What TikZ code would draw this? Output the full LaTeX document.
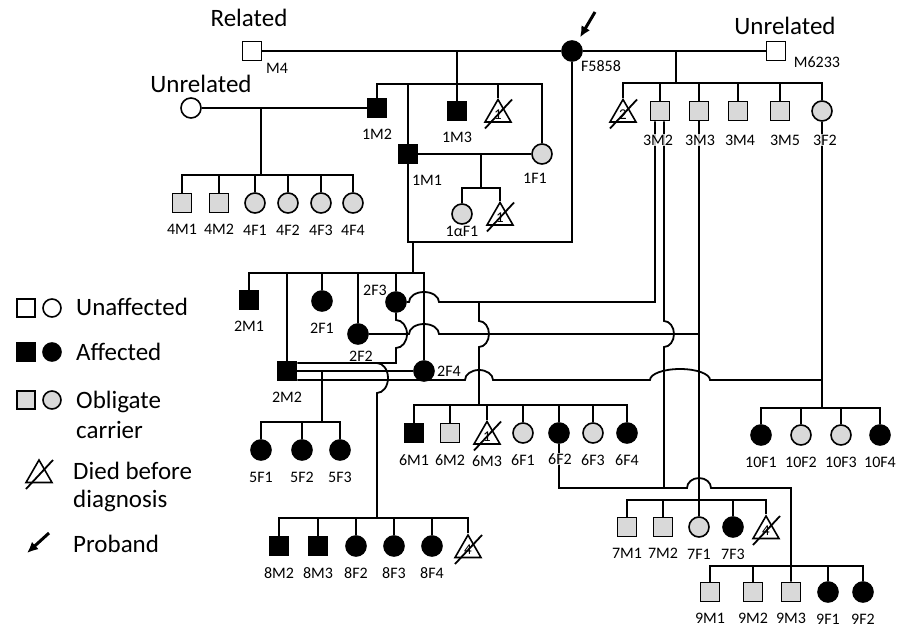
\documentclass[tikz,border=0pt]{standalone}
\usepackage{fontspec}
\setmainfont{Carlito}
\usetikzlibrary{arrows.meta,shapes.geometric}
\definecolor{carrier}{HTML}{D9D9D9}
\tikzset{
  sym/.style={draw=black, line width=1.6pt, inner sep=0pt},
  male/.style={sym, rectangle, minimum size=19pt},
  female/.style={sym, circle, minimum size=20pt},
  died/.style={sym, regular polygon, regular polygon sides=3, minimum size=30pt, fill=white, font=\fontsize{15}{15}\selectfont},
  aff/.style={fill=black},
  car/.style={fill=carrier},
  unaff/.style={fill=white},
  conn/.style={line width=1.8pt},
  lbl/.style={font=\fontsize{16}{16}\selectfont, inner sep=0pt},
  lblover/.style={lbl, fill=white, fill opacity=0.8, text opacity=1, inner sep=1pt},
  big/.style={font=\fontsize{25}{25}\selectfont, inner sep=0pt},
  proband/.style={line width=3pt, -{Latex[length=11pt,width=10pt]}},
}

\begin{document}
\begin{tikzpicture}[x=1pt, y=-1pt, every label/.style={lbl}, label distance=11pt]
\useasboundingbox (0,0) rectangle (909,628);

% founders
\node[male, unaff] (m4) at (252,51) {};
\node[female, aff] (f5858) at (572,51) {};
\node[male, unaff] (m6233) at (776,51) {};
\node[female, unaff] (uf) at (191,108) {};
\node[big, anchor=base] (trel) at (249,27) {Related};
\node[big, anchor=base] (tunrel1) at (201,93) {Unrelated};
\node[big, anchor=base] (tunrel2) at (785,35) {Unrelated};
\node[lbl] (lm4) at (277,68) {M4};
\node[lbl] (lf5858) at (601,66) {F5858};
\node[lbl] (lm6233) at (817,62) {M6233};
\coordinate (pa) at (595,12);

% generation 1
\node[male, aff, label=below:1M2] (p1M2) at (377,108) {};
\node[male, aff, label=below:1M3] (p1M3) at (457,111) {};
\node[died] (t1a) at (498,114.5) {1};
\node[female, car] (p1F1) at (542,154) {};
\node[male, aff] (p1M1) at (408,154) {};
\node[lbl] (l1F1) at (535,178) {1F1};
\node[lbl] (l1M1) at (427,180) {1M1};
\node[female, car] (p1aF1) at (462,214) {};
\node[lbl] (l1aF1) at (462,231) {1αF1};
\node[died] (t1b) at (500,217.5) {1};

% generation 4
\foreach \n/\x in {4M1/182, 4M2/219}
  \node[male, car, label=below:\n] (p\n) at (\x,203) {};
\foreach \n/\x in {4F1/255, 4F2/288, 4F3/321, 4F4/353}
  \node[female, car, label=below:\n] (p\n) at (\x,203) {};

% generation 3
\node[died] (t2) at (623,114.5) {2};
\foreach \n/\x in {3M2/660, 3M3/699, 3M4/738, 3M5/780}
  \node[male, car] (p\n) at (\x,111) {};
\node[female, car] (p3F2) at (822,111) {};

% generation 2
\node[male, aff, label=below:2M1] (p2M1) at (249,300) {};
\node[female, aff, label=below:2F1] (p2F1) at (322,301) {};
\node[female, aff] (p2F2) at (358,334) {};
\node[female, aff] (p2F3) at (396,302) {};
\node[female, aff] (p2F4) at (424,371) {};
\node[male, aff, label=below:2M2] (p2M2) at (287,371) {};
\node[lbl] (l2F2) at (361,356) {2F2};
\node[lbl] (l2F3) at (375,290) {2F3};
\node[lbl] (l2F4) at (449,371) {2F4};

% generation 5
\foreach \n/\x in {5F1/261, 5F2/302, 5F3/340}
  \node[female, aff, label=below:\n] (p\n) at (\x,450) {};

% generation 6
\node[male, aff, label=below:6M1] (p6M1) at (414,433) {};
\node[male, car, label=below:6M2] (p6M2) at (450,433) {};
\node[died, label=below:6M3] (t6) at (487,436.5) {1};
\node[female, car, label=below:6F1] (p6F1) at (523,433) {};
\node[female, aff] (p6F2) at (559,433) {};
\node[female, car, label=below:6F3] (p6F3) at (593,433) {};
\node[female, aff, label=below:6F4] (p6F4) at (627,433) {};

% generation 10
\foreach \n/\x/\f in {10F1/761/aff, 10F2/801/car, 10F3/841/car, 10F4/880/aff}
  \node[female, \f, label=below:\n] (p\n) at (\x,435) {};

% generation 7
\node[male, car, label=below:7M1] (p7M1) at (627,527) {};
\node[male, car, label=below:7M2] (p7M2) at (663,527) {};
\node[female, car, label=below:7F1] (p7F1) at (699,527) {};
\node[female, aff, label=below:7F3] (p7F3) at (733,527) {};
\node[died] (t7) at (766,531) {4};

% generation 8
\foreach \n/\x in {8M2/279, 8M3/318}
  \node[male, aff, label=below:\n] (p\n) at (\x,546) {};
\foreach \n/\x in {8F2/356, 8F3/394, 8F4/432}
  \node[female, aff, label=below:\n] (p\n) at (\x,546) {};
\node[died] (t8) at (468,550) {4};

% generation 9
\foreach \n/\x in {9M1/710, 9M2/753, 9M3/791}
  \node[male, car, label=below:\n] (p\n) at (\x,592) {};
\foreach \n/\x in {9F1/828, 9F2/863}
  \node[female, aff, label=below:\n] (p\n) at (\x,592) {};

% sibship points
\coordinate (s1) at (457,84);
\coordinate (s4) at (261,175);
\coordinate (s3) at (676,83);
\coordinate (s1a) at (481,188);
\coordinate (s2) at (413,273);
\coordinate (s5) at (322,422);
\coordinate (s6) at (479,405);
\coordinate (s7) at (699,500);
\coordinate (s8) at (377,518);
\coordinate (s9) at (791,566);
\coordinate (s10) at (822,408);

% marriages
\draw[conn] (m4) -- (f5858);
\draw[conn] (f5858) -- (m6233);
\draw[conn] (uf) -- (p1M2);
\draw[conn] (p1M1) -- (p1F1);
\draw[conn] (p2M2) -- (p2F4);
\draw[conn] (p1M1.south) |- (f5858.south |- 0,242) -- (f5858.south);

% sibships
\draw[conn] (p1M3.north) -- (p1M3.north |- m4);
\draw[conn] (p1M2.north) |- (s1) -| (p1F1.north);
\foreach \c in {p1M1, t1a} \draw[conn] (\c.north) -- (\c.north |- s1);

\draw[conn] (s4) -- (s4 |- uf);
\draw[conn] (p4M1.north) |- (s4) -| (p4F4.north);
\foreach \c in {p4M2, p4F1, p4F2, p4F3} \draw[conn] (\c.north) -- (\c.north |- s4);

\draw[conn] (s3) -- (s3 |- f5858);
\draw[conn] (t2.north) |- (s3) -| (p3F2.north);
\foreach \c in {p3M2, p3M3, p3M4, p3M5} \draw[conn] (\c.north) -- (\c.north |- s3);

\draw[conn] (s1a) -- (s1a |- p1M1);
\draw[conn] (p1aF1.north) |- (s1a) -| (t1b.north);

\draw[conn] (s2) -- (s2 |- 0,242);
\draw[conn] (p2M1.north) |- (s2) -| (p2F4.north);
\foreach \c in {p2M2, p2F1, p2F2, p2F3} \draw[conn] (\c.north) -- (\c.north |- s2);

% 2F3 x 3M2
\draw[conn] (p2F3.east) -- (409,302) arc[start angle=180, end angle=0, x radius=15pt, y radius=10pt]
  -- (655,302) -- ([xshift=-5pt]p3M2.south);
\draw[conn] (s6 |- 0,302) -- (479,321) arc[start angle=90, end angle=-90, x radius=10pt, y radius=13pt] -- (s6);
\draw[conn] (p6M1.north) |- (s6) -| (p6F4.north);
\foreach \c in {p6M2, t6, p6F1, p6F2, p6F3} \draw[conn] (\c.north) -- (\c.north |- s6);

% 2F2 x 3M3
\draw[conn] (p2F2.east) -- (409,334) arc[start angle=180, end angle=0, x radius=15pt, y radius=10pt]
  -- (p3M3.south |- 0,334);
\draw[conn] (p3M3.south) -- (p7F1.north);
\draw[conn] (p7M1.north) |- (s7) -| (t7.north);
\foreach \c in {p7M2, p7F3} \draw[conn] (\c.north) -- (\c.north |- s7);

% 2F3 x 2M2
\draw[conn] (p2F3.south) -- (396,320) arc[start angle=90, end angle=-90, x radius=11pt, y radius=14pt]
  |- ([yshift=8pt]p2M2.east);
\draw[conn] (s8 |- 0,363) arc[start angle=90, end angle=-90, x radius=11pt, y radius=15pt] -- (s8);
\draw[conn] (p8M2.north) |- (s8) -| (t8.north);
\foreach \c in {p8M3, p8F2, p8F3, p8F4} \draw[conn] (\c.north) -- (\c.north |- s8);

% 2M2 x 2F4
\draw[conn] (s5) -- (s5 |- p2M2);
\draw[conn] (p5F1.north) |- (s5) -| (p5F3.north);
\draw[conn] (p5F2.north) -- (p5F2.north |- s5);

% 2M2 x 3F2
\draw[conn] ([yshift=-9pt]p2M2.east) -- (465,380) arc[start angle=180, end angle=0, x radius=14pt, y radius=10pt]
  -- (650,380) arc[start angle=180, end angle=0, x radius=30pt, y radius=11pt] -- (s10 |- 0,380);
\draw[conn] (p3F2.south) -- (s10);
\draw[conn] (p10F1.north) |- (s10) -| (p10F4.north);
\foreach \c in {p10F2, p10F3} \draw[conn] (\c.north) -- (\c.north |- s10);

% 6F2 x 3M2
\draw[conn] ([xshift=4pt]p3M2.south) -- (664,321) arc[start angle=90, end angle=-90, x radius=10pt, y radius=13pt] -- (664,488);
\draw[conn] (p6F2.south) |- (687,488) arc[start angle=180, end angle=0, x radius=12pt, y radius=10pt] -| (p9M3.north);
\draw[conn] (p9M1.north) |- (s9) -| (p9F2.north);
\foreach \c in {p9M2, p9F1} \draw[conn] (\c.north) -- (\c.north |- s9);

% labels over lines
\node[lblover] (l3M2) at (658,140) {3M2};
\node[lblover] (l3M3) at (700,140) {3M3};
\node[lbl] (l3M4) at (740,140) {3M4};
\node[lbl] (l3M5) at (785,140) {3M5};
\node[lblover] (l3F2) at (825,140) {3F2};
\node[lblover] (l6F2) at (560,459) {6F2};

% died slashes
\node[died] (tleg) at (39,475) {};
\foreach \t in {t1a, t1b, t2, t6, t7, t8, tleg}
  \draw[conn] ([shift={(-13,14)}]\t.center) -- ([shift={(14,-15)}]\t.center);

% proband
\draw[proband, shorten >=5pt] (pa) -- (f5858);

% legend
\node[male, unaff, minimum size=18pt] (lgm1) at (26,308) {};
\node[female, unaff, minimum size=18pt] (lgf1) at (52,308) {};
\node[male, aff, minimum size=18pt] (lgm2) at (26,352) {};
\node[female, aff, minimum size=18pt] (lgf2) at (52,352) {};
\node[male, car, minimum size=18pt] (lgm3) at (26,400) {};
\node[female, car, minimum size=18pt] (lgf3) at (52,400) {};
\node[big, anchor=base west] (lgt1) at (76,315) {Unaffected};
\node[big, anchor=base west] (lgt2) at (76,360) {Affected};
\node[big, anchor=base west] (lgt3) at (76,408) {Obligate};
\node[big, anchor=base west] (lgt3b) at (76,438) {carrier};
\node[big, anchor=base west] (lgt4) at (73,479) {Died before};
\node[big, anchor=base west] (lgt4b) at (73,507) {diagnosis};
\node[big, anchor=base west] (lgt5) at (73,552) {Proband};
\coordinate (pb1) at (49,533);
\coordinate (pb2) at (27,553);
\draw[proband] (pb1) -- (pb2);
\end{tikzpicture}
\end{document}
